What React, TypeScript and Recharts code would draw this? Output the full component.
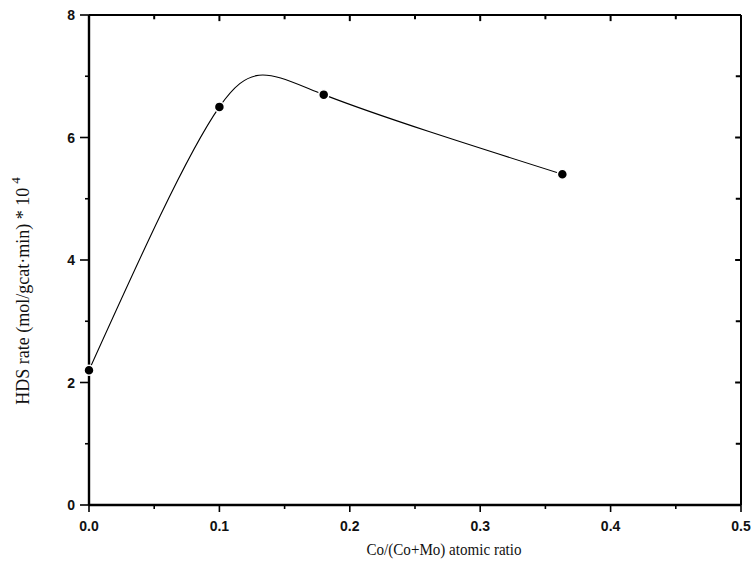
import { ComposedChart, Line, XAxis, YAxis, Label, ReferenceLine } from "recharts";

// Co/(Co+Mo) atomic ratio vs HDS rate (mol/gcat·min) * 10^4
const ratio = [0, 0.1, 0.18, 0.363];
const hdsRate = [2.2, 6.5, 6.7, 5.4];

const xTicks = [0, 0.05, 0.1, 0.15, 0.2, 0.25, 0.3, 0.35, 0.4, 0.45, 0.5];
const yTicks = [0, 1, 2, 3, 4, 5, 6, 7, 8];

const data = ratio.map((r, i) => ({ ratio: r, rate: hdsRate[i] }));

const xMax = 0.5;
const yMax = 8;

const tickFont = {
  fontFamily: "'Liberation Sans', Arial, sans-serif",
  fontSize: 14,
  fontWeight: 700,
  fill: "#111",
};
const titleFont = "'Liberation Serif', 'Times New Roman', serif";

const isMajorX = (v: number) => Math.abs(v * 10 - Math.round(v * 10)) < 1e-6;
const isMajorY = (v: number) => Math.round(v) % 2 === 0;

function BottomTick({ x, y, payload }: any) {
  const major = isMajorX(payload.value);
  return (
    <g>
      <line x1={x} x2={x} y1={y} y2={y + (major ? 7 : 4)} stroke="#000" strokeWidth={1.6} />
      {major && (
        <text x={x} y={y + 26} textAnchor="middle" {...tickFont}>
          {payload.value.toFixed(1)}
        </text>
      )}
    </g>
  );
}

function LeftTick({ x, y, payload }: any) {
  const major = isMajorY(payload.value);
  return (
    <g>
      <line x1={x} x2={x - (major ? 9 : 4)} y1={y} y2={y} stroke="#000" strokeWidth={1.6} />
      {major && (
        <text x={x - 14} y={y + 5} textAnchor="end" {...tickFont}>
          {payload.value}
        </text>
      )}
    </g>
  );
}

export default function App() {
  return (
    <div style={{ position: "absolute", left: 0, top: 0, background: "#fff" }}>
      <ComposedChart
        width={754}
        height={569}
        data={data}
        margin={{ top: 14, right: 12, bottom: 24, left: 29 }}
      >
        <XAxis
          dataKey="ratio"
          type="number"
          domain={[0, xMax]}
          ticks={xTicks}
          interval={0}
          height={40}
          tickSize={0}
          tickMargin={0}
          tickLine={false}
          axisLine={{ stroke: "#000", strokeWidth: 2.4 }}
          tick={<BottomTick />}
        >
          <Label
            content={({ viewBox }: any) => (
              <text
                x={viewBox.x + viewBox.width / 2 + 29}
                y={viewBox.y + 50}
                textAnchor="middle"
                fontFamily={titleFont}
                fontSize={17}
                textLength={155}
                lengthAdjust="spacingAndGlyphs"
                fill="#111"
              >
                Co/(Co+Mo) atomic ratio
              </text>
            )}
          />
        </XAxis>
        <XAxis
          xAxisId="top"
          orientation="top"
          height={1}
          tick={false}
          tickLine={false}
          axisLine={{ stroke: "#000", strokeWidth: 2 }}
        />
        <YAxis
          type="number"
          domain={[0, yMax]}
          ticks={yTicks}
          interval={0}
          width={60}
          tickSize={0}
          tickMargin={0}
          tickLine={false}
          axisLine={{ stroke: "#000", strokeWidth: 2.4 }}
          tick={<LeftTick />}
        >
          <Label
            content={({ viewBox }: any) => {
              const cx = viewBox.x;
              const cy = viewBox.y + viewBox.height / 2 + 31;
              return (
                <text
                  x={cx}
                  y={cy}
                  transform={`rotate(-90 ${cx} ${cy})`}
                  textAnchor="middle"
                  fontFamily={titleFont}
                  fontSize={18}
                  fill="#111"
                >
                  HDS rate (mol/gcat·min) * 10
                  <tspan dx={4} dy={-9} fontSize={13}>
                    4
                  </tspan>
                </text>
              );
            }}
          />
        </YAxis>
        <YAxis
          yAxisId="right"
          orientation="right"
          width={1}
          tick={false}
          tickLine={false}
          axisLine={{ stroke: "#000", strokeWidth: 2 }}
        />
        {/* inward ticks on the top frame */}
        {xTicks.map((t) => (
          <ReferenceLine
            key={`top-${t}`}
            segment={[
              { x: t, y: yMax },
              { x: t, y: yMax - (isMajorX(t) ? 0.1 : 0.07) },
            ]}
            stroke="#000"
            strokeWidth={2}
            ifOverflow="visible"
          />
        ))}
        {/* inward ticks on the right frame */}
        {yTicks.map((t) => (
          <ReferenceLine
            key={`right-${t}`}
            segment={[
              { x: xMax, y: t },
              { x: xMax - (isMajorY(t) ? 0.0045 : 0.004), y: t },
            ]}
            stroke="#000"
            strokeWidth={2}
            ifOverflow="visible"
          />
        ))}
        <Line
          type="natural"
          dataKey="rate"
          stroke="#000"
          strokeWidth={1.1}
          dot={{ r: 5, fill: "#000", stroke: "#fff", strokeWidth: 1.5 }}
          isAnimationActive={false}
        />
      </ComposedChart>
    </div>
  );
}
